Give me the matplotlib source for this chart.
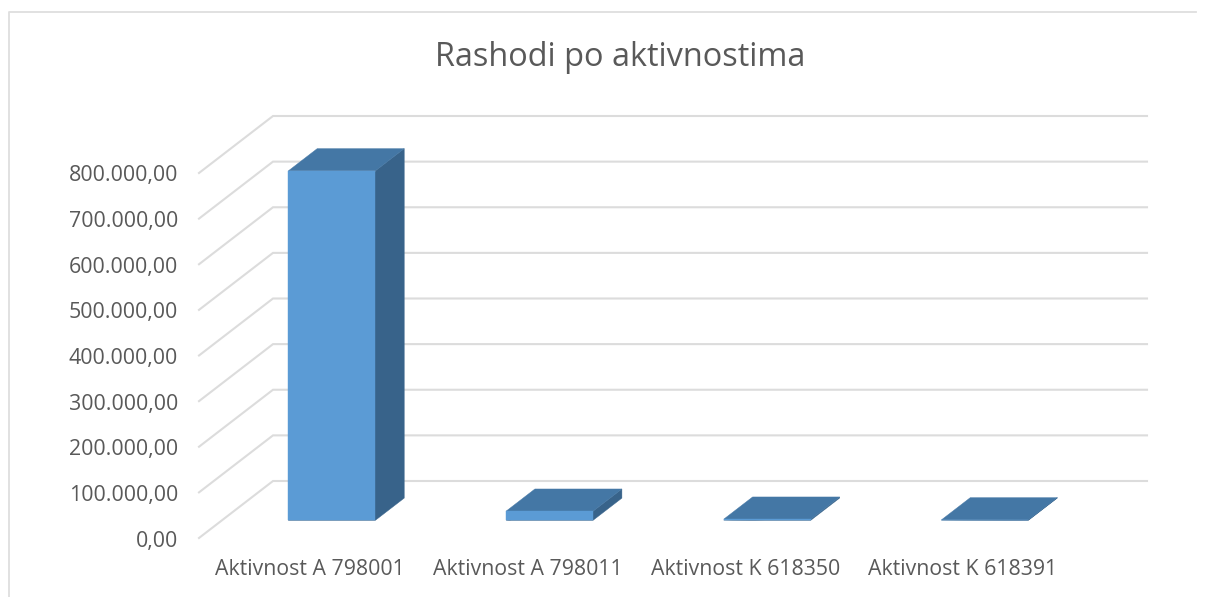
import matplotlib
matplotlib.use('Agg')
import matplotlib.pyplot as plt
from matplotlib.patches import Polygon

W, H = 1210, 597

categories = ['Aktivnost A 798001', 'Aktivnost A 798011', 'Aktivnost K 618350', 'Aktivnost K 618391']
values = [766000, 20000, 2500, 1000]
axis_ticks = [0, 100000, 200000, 300000, 400000, 500000, 600000, 700000, 800000]
axis_labels = ['0,00', '100.000,00', '200.000,00', '300.000,00', '400.000,00',
               '500.000,00', '600.000,00', '700.000,00', '800.000,00']
title = 'Rashodi po aktivnostima'

GREY = '#595959'
GRID = '#dcdcdc'
FRONT = '#5b9bd5'
TOP = '#4477a5'
SIDE = '#38638a'

plt.rcParams['font.family'] = ['Open Sans', 'DejaVu Sans']

fig = plt.figure(figsize=(W / 100, H / 100), dpi=100)
# axes = back wall of the 3D box, in pixels 273-1147 / 116-481
ax = fig.add_axes([273 / W, 1 - 481 / H, 874 / W, 365 / H])
x_left, x_right = -0.505, 3.51
ax.set_xlim(x_left, x_right)
ax.set_ylim(0, 800000)
ax.axis('off')

px_x = (x_right - x_left) / 874
px_y = 800000 / 365


def proj(x, y, depth):
    # depth 0 = back wall, 1 = front edge of the floor
    return x - 74 * depth * px_x, y - 57 * depth * px_y


def poly(pts, color, z):
    ax.add_patch(Polygon([proj(*p) for p in pts], closed=True, facecolor=color,
                         edgecolor=color, linewidth=0.3, clip_on=False, zorder=z))


for t, lab in zip(axis_ticks, axis_labels):
    x0, y0 = proj(x_left, t, 1)
    x1, y1 = proj(x_left, t, 0)
    ax.plot([x0, x1, x_right], [y0, y1, y1], color=GRID, lw=1.5, clip_on=False, zorder=1,
            solid_joinstyle='miter')
    ax.text(x0 - 21 * px_x, y0 - 3 * px_y, lab, ha='right', va='center', fontsize=15.4, color=GREY)

half = 87 / 2 * px_x
d_front, d_back = 0.69, 0.30
for i, (c, v) in enumerate(zip(categories, values)):
    poly([(i - half, 0, d_front), (i + half, 0, d_front), (i + half, 0, d_back),
          (i + half, v, d_back), (i + half, v, d_front)], SIDE, 3)
    poly([(i - half, v, d_front), (i + half, v, d_front), (i + half, v, d_back),
          (i - half, v, d_back)], TOP, 4)
    poly([(i - half, 0, d_front), (i + half, 0, d_front), (i + half, v, d_front),
          (i - half, v, d_front)], FRONT, 5)
    lx, ly = proj(i, 0, d_front)
    ax.text(lx - 22 * px_x, ly - 49 * px_y, c, ha='center', va='center', fontsize=15.3, color=GREY)

fig.text(620 / W, 1 - 57 / H, title, ha='center', va='center', fontsize=23.4, color=GREY)

# chart frame
fig.add_artist(plt.Line2D([9 / W, 9 / W, 1196 / W], [0, 1 - 12 / H, 1 - 12 / H],
                          color='#dedede', lw=1.3))

fig.savefig('out.png', dpi=100)
